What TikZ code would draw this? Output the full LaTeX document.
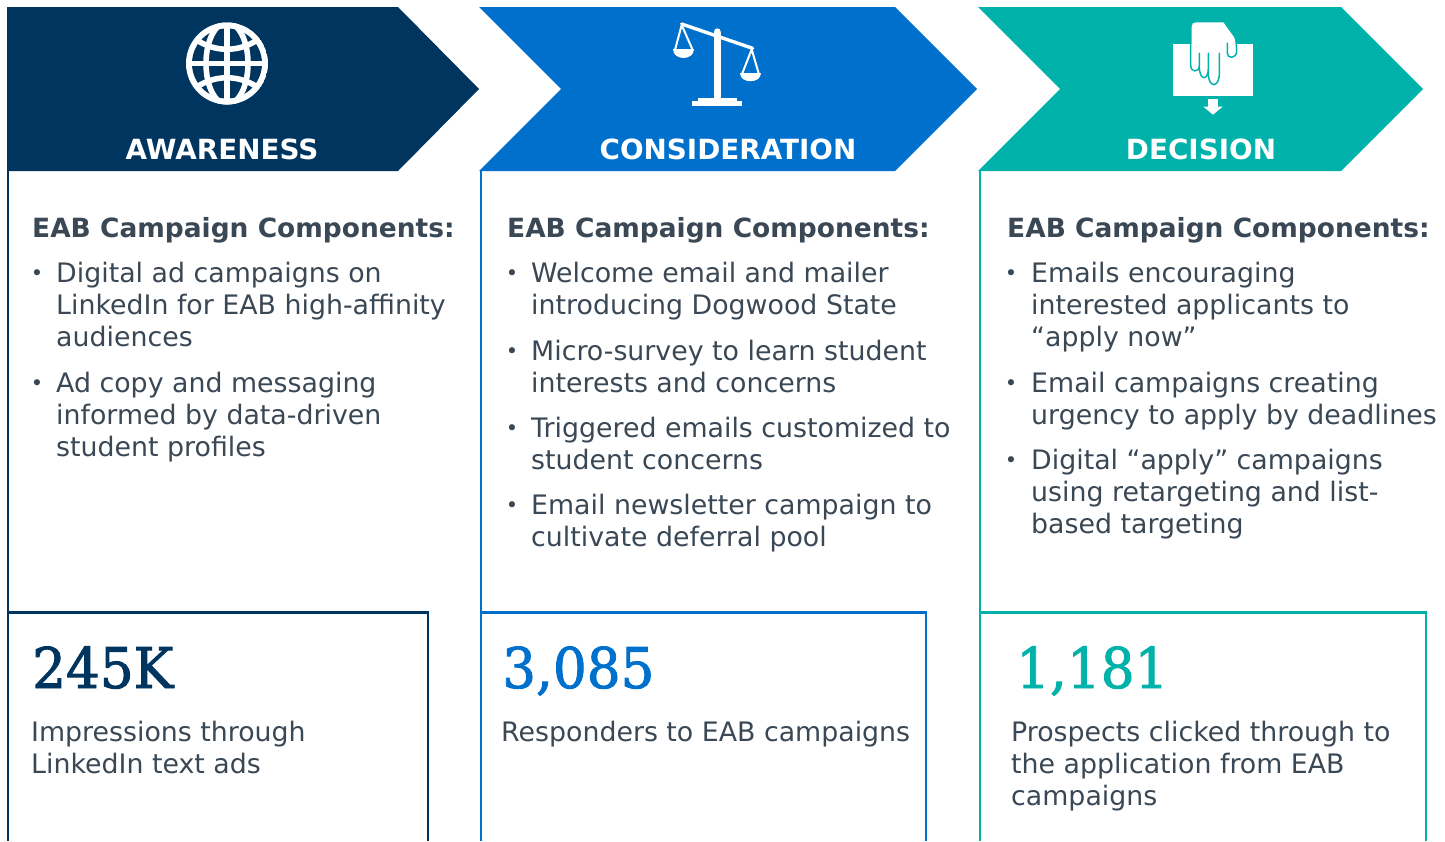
\documentclass[tikz,border=0pt]{standalone}
\usepackage{fontspec}
\setmainfont{DejaVu Sans}
\newfontfamily\slabfont[RawFeature={embolden=1.6;extend=0.95}]{DejaVu Serif}
\definecolor{navy}{HTML}{00355F}
\definecolor{midblue}{HTML}{0070CD}
\definecolor{teal1}{HTML}{00B2A9}
\definecolor{txt}{HTML}{3A4754}
\newcommand{\fl}{\rule{0pt}{20pt}}
\tikzset{
 chev/.style={fill=#1,draw=none},
 frame/.style={draw=#1,line width=2.4pt,line join=miter},
 head/.style={text=white,font=\fontsize{27.8}{30}\selectfont\bfseries,anchor=base,inner sep=0pt},
 comp/.style={text=txt,font=\fontsize{26.45}{32}\selectfont\bfseries,anchor=base west,inner sep=0pt},
 body/.style={text=txt,font=\fontsize{26.8}{32}\selectfont,anchor=north west,inner sep=0pt,align=left},
 bul/.style={text=txt,font=\fontsize{21}{20}\selectfont,anchor=base,inner sep=0pt},
 num/.style={text=#1,font=\fontsize{56}{60}\selectfont\slabfont,anchor=base west,inner sep=0pt},
}
\begin{document}
\begin{tikzpicture}[x=1pt,y=-1pt]
\useasboundingbox (0,0) rectangle (1445,841);
% frames
\draw[frame=navy] (8,171) -- (8,841);
\draw[frame=navy] (8,612.5) -- (428,612.5) -- (428,841);
\draw[frame=midblue] (481,171) -- (481,841);
\draw[frame=midblue] (481,612.5) -- (926,612.5) -- (926,841);
\draw[frame=teal1] (980,171) -- (980,841);
\draw[frame=teal1] (980,612.5) -- (1426,612.5) -- (1426,841);
% chevrons
\fill[chev=navy] (7,7) -- (398,7) -- (479,89) -- (398,171) -- (7,171) -- cycle;
\fill[chev=midblue] (479,7) -- (895,7) -- (977,89) -- (895,171) -- (479,171) -- (561,89) -- cycle;
\fill[chev=teal1] (978,7) -- (1341,7) -- (1423,89) -- (1341,171) -- (978,171) -- (1060,89) -- cycle;
% headings
\node[head] (h1) at (222,159) {AWARENESS};
\node[head] (h2) at (728,159) {CONSIDERATION};
\node[head] (h3) at (1201,159) {DECISION};
% globe
\begin{scope}[shift={(227,63.5)}]
 \clip (0,0) circle (41);
 \fill[white] (0,0) circle (41);
 \fill[navy] (0,0) circle (35);
 \begin{scope}[white,line width=5.6pt]
  \draw (0,-41) -- (0,41);
  \draw (-41,0) -- (41,0);
  \draw (0,0) ellipse (21 and 41);
  \draw (-31,-24) .. controls (-12,-11) and (12,-11) .. (31,-24);
  \draw (-31,24) .. controls (-12,11) and (12,11) .. (31,24);
 \end{scope}
\end{scope}
% scales
\begin{scope}[shift={(640,5)},scale=1/3,white]
 \draw[line width=3.4pt,line cap=round] (125,57) -- (338,130);
 \fill (232,80) circle (10);
 \fill (222,80) rectangle (242,285);
 \fill (175,280) rectangle (290,290);
 \fill (157,287) rectangle (305,302);
 \draw[line width=2pt,line join=round] (105,135) -- (125,60) -- (158,135);
 \fill (100,133) .. controls (100,167) and (163,167) .. (163,133) -- cycle;
 \draw[line width=2pt,line join=round] (307,205) -- (335,133) -- (356,205);
 \fill (301,203) .. controls (301,238) and (362,238) .. (362,203) -- cycle;
\end{scope}
% hand
\begin{scope}[shift={(1140,5)},scale=1/3]
 \fill[white] (100,118) rectangle (338,272);
 \fill[white] (155,118) -- (155,65) .. controls (155,56) and (160,52) .. (168,52) -- (250,52) -- (283,98) -- (288,118) -- cycle;
 \draw[teal1,line width=1.5pt,line cap=round,line join=round]
   (152,118) -- (152,180) .. controls (152,204) and (178,204) .. (178,180) -- (178,145)
   (178,185) .. controls (178,228) and (205,228) .. (205,190)
   (205,145) -- (205,205) .. controls (205,250) and (238,250) .. (238,205) -- (238,145)
   (262,115) -- (262,145) .. controls (262,162) and (290,162) .. (290,138) -- (288,100);
 \fill[white] (205,283) rectangle (233,305);
 \fill[white] (190,305) -- (248,305) -- (219,329) -- cycle;
\end{scope}
% column 1
\node[comp] (c1) at (32,237) {EAB Campaign Components:};
\node[bul] (b11) at (37,280) {•};
\node[body] (t11) at (56,262) {\fl Digital ad campaigns on\\LinkedIn for EAB high-affinity\\audiences};
\node[bul] (b12) at (37,390) {•};
\node[body] (t12) at (56,372) {\fl Ad copy and messaging\\informed by data-driven\\student profiles};
% column 2
\node[comp] (c2) at (507,237) {EAB Campaign Components:};
\node[bul] (b21) at (512,280) {•};
\node[body] (t21) at (531,262) {\fl Welcome email and mailer\\introducing Dogwood State};
\node[bul] (b22) at (512,358) {•};
\node[body] (t22) at (531,340) {\fl Micro-survey to learn student\\interests and concerns};
\node[bul] (b23) at (512,435) {•};
\node[body] (t23) at (531,417) {\fl Triggered emails customized to\\student concerns};
\node[bul] (b24) at (512,512) {•};
\node[body] (t24) at (531,494) {\fl Email newsletter campaign to\\cultivate deferral pool};
% column 3
\node[comp] (c3) at (1007,237) {EAB Campaign Components:};
\node[bul] (b31) at (1011,280) {•};
\node[body] (t31) at (1031,262) {\fl Emails encouraging\\interested applicants to\\“apply now”};
\node[bul] (b32) at (1011,390) {•};
\node[body] (t32) at (1031,372) {\fl Email campaigns creating\\urgency to apply by deadlines};
\node[bul] (b33) at (1011,467) {•};
\node[body] (t33) at (1031,449) {\fl Digital “apply” campaigns\\using retargeting and list-\\based targeting};
% stats
\node[num=navy] (n1) at (32,688) {245K};
\node[body] (s1) at (31,721) {\fl Impressions through\\LinkedIn text ads};
\node[num=midblue] (n2) at (502,688) {3,085};
\node[body] (s2) at (501,721) {\fl Responders to EAB campaigns};
\node[num=teal1] (n3) at (1016,688) {1,181};
\node[body] (s3) at (1011,721) {\fl Prospects clicked through to\\the application from EAB\\campaigns};
\end{tikzpicture}
\end{document}
